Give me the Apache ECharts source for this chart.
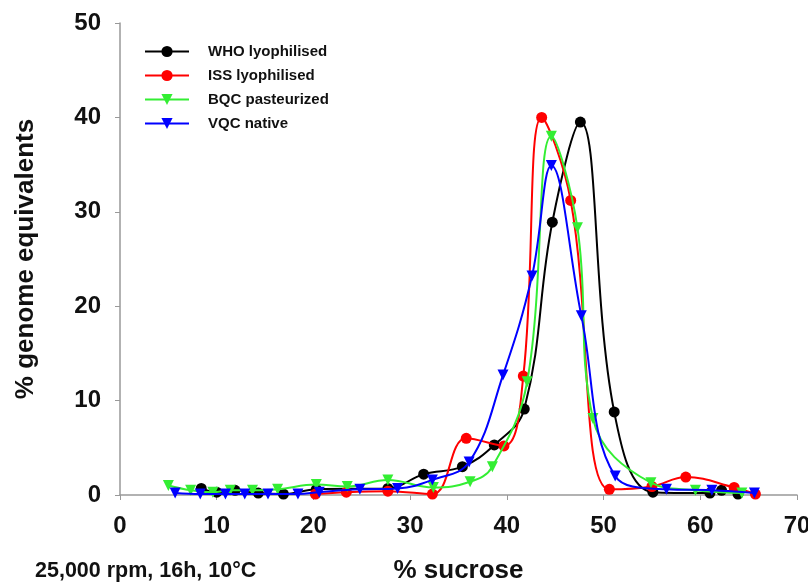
<!DOCTYPE html>
<html>
<head>
<meta charset="utf-8">
<script src="https://cdn.jsdelivr.net/npm/echarts@6/dist/echarts.min.js"></script>
<style>
html,body{margin:0;padding:0;background:#fff;}
#chart{width:808px;height:583px;}
</style>
</head>
<body>
<div id="chart"></div>
<script>
const seriesNames = ['WHO lyophilised', 'ISS lyophilised', 'BQC pasteurized', 'VQC native'];

const whoX = [8.4, 10.0, 11.9, 14.3, 16.9, 20.3, 27.7, 31.4, 35.4, 38.7, 41.8, 44.7, 47.6, 51.1, 55.1, 61.0, 62.2, 63.9];
const whoY = [0.7, 0.3, 0.5, 0.2, 0.1, 0.6, 0.7, 2.2, 3.0, 5.3, 9.1, 28.9, 39.5, 8.8, 0.3, 0.2, 0.5, 0.1];

const issX = [20.2, 23.4, 27.7, 32.3, 35.8, 39.7, 41.7, 43.6, 46.6, 50.6, 55.0, 58.5, 63.5, 65.7];
const issY = [0.1, 0.3, 0.4, 0.1, 6.0, 5.2, 12.6, 40.0, 31.2, 0.6, 0.9, 1.9, 0.8, 0.1];

const bqcX = [5.0, 7.3, 9.6, 11.4, 13.7, 16.3, 20.3, 23.5, 27.7, 32.4, 36.2, 38.5, 42.1, 44.6, 47.3, 48.9, 54.9, 59.5, 64.3];
const bqcY = [1.0, 0.5, 0.3, 0.5, 0.5, 0.6, 1.1, 0.9, 1.6, 0.8, 1.4, 3.0, 12.0, 38.0, 28.3, 8.1, 1.3, 0.5, 0.2];

const vqcX = [5.7, 8.3, 10.9, 12.9, 15.3, 18.4, 20.6, 24.8, 28.7, 32.3, 36.1, 39.6, 42.6, 44.6, 47.7, 51.2, 56.5, 61.2, 65.6];
const vqcY = [0.2, 0.1, 0.1, 0.1, 0.1, 0.1, 0.3, 0.6, 0.7, 1.6, 3.5, 12.7, 23.2, 34.9, 19.0, 2.0, 0.6, 0.5, 0.2];

const xTicks = [0, 10, 20, 30, 40, 50, 60, 70];
const yTicks = [0, 10, 20, 30, 40, 50];

const colors = ['#000000', '#ff0000', '#33ee33', '#0000ff'];
const symbols = ['circle', 'circle', 'triangle', 'triangle'];
const rotations = [0, 0, 180, 180];

function pairs(xs, ys) { return xs.map((x, i) => [x, ys[i]]); }
const allData = [pairs(whoX, whoY), pairs(issX, issY), pairs(bqcX, bqcY), pairs(vqcX, vqcY)];

const FONT = '"Liberation Sans", Arial, sans-serif';

const chart = echarts.init(document.getElementById('chart'), null, {renderer: 'canvas'});
chart.setOption({
  backgroundColor: '#ffffff',
  animation: false,
  grid: {left: 120, right: 11, top: 23, bottom: 88, containLabel: false, outerBoundsMode: 'none'},
  legend: {
    orient: 'vertical',
    left: 139,
    top: 39,
    itemWidth: 44,
    itemHeight: 14,
    itemGap: 9,
    data: seriesNames,
    textStyle: {fontFamily: FONT, fontWeight: 'bold', fontSize: 15, color: '#111', padding: [0, 0, 0, 14]}
  },
  xAxis: {
    type: 'value',
    min: xTicks[0], max: xTicks[xTicks.length - 1], interval: 10,
    name: '% sucrose',
    nameLocation: 'middle',
    nameGap: 63,
    nameTextStyle: {fontFamily: FONT, fontWeight: 'bold', fontSize: 26, color: '#111'},
    axisLine: {show: true, lineStyle: {color: '#999', width: 1.5}},
    axisTick: {show: true, inside: false, length: 5, lineStyle: {color: '#999'}},
    axisLabel: {fontFamily: FONT, fontWeight: 'bold', fontSize: 24, color: '#111', margin: 19},
    splitLine: {show: false}
  },
  yAxis: {
    type: 'value',
    min: yTicks[0], max: yTicks[yTicks.length - 1], interval: 10,
    name: '% genome equivalents',
    nameLocation: 'middle',
    nameGap: 81,
    nameTextStyle: {fontFamily: FONT, fontWeight: 'bold', fontSize: 26, color: '#111'},
    axisLine: {show: true, lineStyle: {color: '#999', width: 1.5}},
    axisTick: {show: true, inside: false, length: 5, lineStyle: {color: '#999'}},
    axisLabel: {fontFamily: FONT, fontWeight: 'bold', fontSize: 24, color: '#111', margin: 19},
    splitLine: {show: false}
  },
  graphic: [{
    type: 'text',
    left: 35,
    top: 560,
    style: {text: '25,000 rpm, 16h, 10°C', font: 'bold 21.5px ' + FONT, fill: '#111'}
  }],
  series: seriesNames.map((name, i) => ({
    name: name,
    type: 'line',
    smooth: 0.4,
    data: allData[i],
    symbol: symbols[i],
    symbolSize: 11,
    symbolRotate: rotations[i],
    lineStyle: {color: colors[i], width: 2},
    itemStyle: {color: colors[i], borderWidth: 0},
    z: 2 + i
  }))
});
</script>
</body>
</html>
